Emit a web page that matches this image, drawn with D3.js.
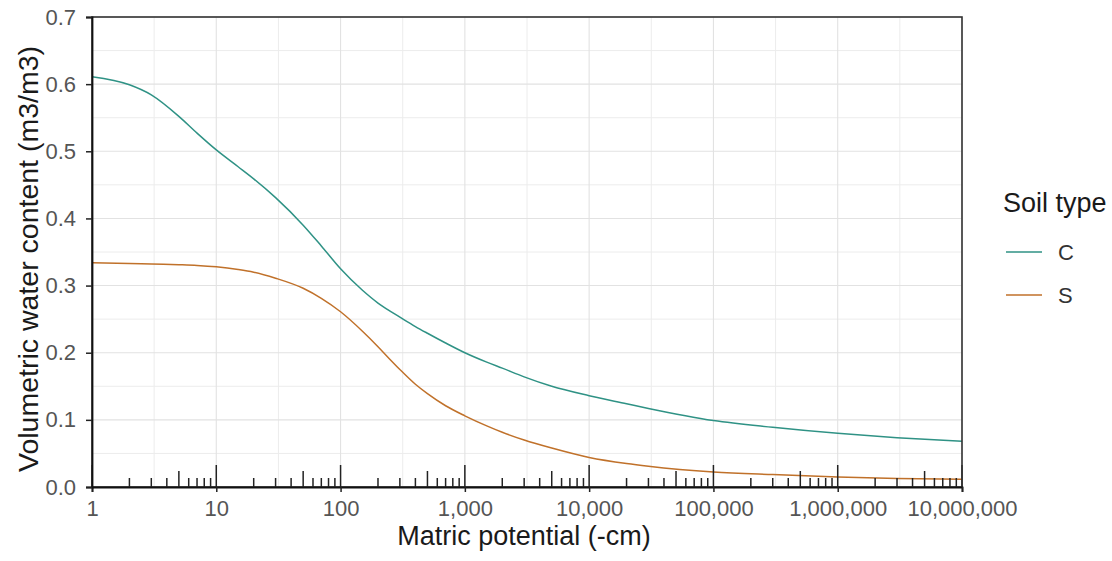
<!DOCTYPE html>
<html>
<head>
<meta charset="utf-8">
<script src="https://cdn.jsdelivr.net/npm/d3@7"></script>
<style>
  html, body { margin: 0; padding: 0; background: #fff; }
  svg { display: block; font-family: "Liberation Sans", Arial, sans-serif; }
</style>
</head>
<body>
<svg id="chart" width="1112" height="561"></svg>
<script>
// Matric potential (-cm) at which water content was evaluated
const potentials = [1, 2, 3, 5, 7, 10, 15, 20, 30, 50, 70, 100, 150, 200, 250, 300, 400, 500, 700,
                    1000, 1500, 2000, 3000, 5000, 1e4, 2e4, 3e4, 1e5, 3e5, 1e6, 3e6, 1e7];
// Volumetric water content, soil type C
const soilC = [0.611, 0.599, 0.584, 0.552, 0.527, 0.502, 0.477, 0.459, 0.431, 0.390, 0.359, 0.325,
               0.293, 0.274, 0.262, 0.253, 0.239, 0.229, 0.2145, 0.200, 0.186, 0.177, 0.164, 0.150,
               0.136, 0.124, 0.117, 0.099, 0.089, 0.080, 0.0735, 0.068];
// Volumetric water content, soil type S
const soilS = [0.334, 0.333, 0.332, 0.331, 0.330, 0.328, 0.324, 0.320, 0.311, 0.296, 0.281, 0.261,
               0.232, 0.209, 0.190, 0.175, 0.153, 0.139, 0.121, 0.106, 0.091, 0.0815, 0.070, 0.058,
               0.044, 0.035, 0.031, 0.0225, 0.0185, 0.015, 0.0125, 0.0115];
const soilTypes = ["C", "S"];
const xTicks = [1, 10, 100, 1000, 1e4, 1e5, 1e6, 1e7];
const yTicks = [0, 0.1, 0.2, 0.3, 0.4, 0.5, 0.6, 0.7];
const colors = { C: "#2f9285", S: "#c0712a" };

const svg = d3.select("#chart");
const pLeft = 92, pRight = 962, pTop = 17, pBottom = 487;

const x = d3.scaleLog().domain([1, 1e7]).range([pLeft, pRight]);
const y = d3.scaleLinear().domain([0, 0.7]).range([pBottom, pTop]);

// grid: minor lines halfway between majors (log space for x)
const xMinor = d3.range(0, 7).map(k => Math.pow(10, k + 0.5));
const yMinor = d3.range(0, 7).map(k => k * 0.1 + 0.05);
const grid = svg.append("g");
grid.selectAll(".xm").data(xMinor).join("line")
  .attr("x1", d => x(d)).attr("x2", d => x(d)).attr("y1", pTop).attr("y2", pBottom)
  .attr("stroke", "#ececec").attr("stroke-width", 1);
grid.selectAll(".ym").data(yMinor).join("line")
  .attr("x1", pLeft).attr("x2", pRight).attr("y1", d => y(d)).attr("y2", d => y(d))
  .attr("stroke", "#ececec").attr("stroke-width", 1);
grid.selectAll(".xM").data(xTicks).join("line")
  .attr("x1", d => x(d)).attr("x2", d => x(d)).attr("y1", pTop).attr("y2", pBottom)
  .attr("stroke", "#e2e2e2").attr("stroke-width", 1.1);
grid.selectAll(".yM").data(yTicks).join("line")
  .attr("x1", pLeft).attr("x2", pRight).attr("y1", d => y(d)).attr("y2", d => y(d))
  .attr("stroke", "#e2e2e2").attr("stroke-width", 1.1);

// curves
const line = d3.line().x(d => x(d[0])).y(d => y(d[1])).curve(d3.curveMonotoneX);
const series = { C: soilC, S: soilS };
soilTypes.forEach(t => {
  svg.append("path")
    .datum(potentials.map((p, i) => [p, series[t][i]]))
    .attr("fill", "none").attr("stroke", colors[t]).attr("stroke-width", 1.5)
    .attr("d", line);
});

// log tick marks along the bottom of the panel
const logTicks = [];
for (let k = 0; k < 7; k++) {
  for (let m = 1; m <= 9; m++) logTicks.push({ v: m * Math.pow(10, k), len: m === 1 ? 22 : (m === 5 ? 16 : 9) });
}
logTicks.push({ v: 1e7, len: 22 });
svg.append("g").selectAll("line").data(logTicks).join("line")
  .attr("x1", d => x(d.v)).attr("x2", d => x(d.v))
  .attr("y1", pBottom).attr("y2", d => pBottom - d.len)
  .attr("stroke", "#222").attr("stroke-width", 1.5);

// panel border
svg.append("rect").attr("x", pLeft).attr("y", pTop).attr("width", pRight - pLeft).attr("height", pBottom - pTop)
  .attr("fill", "none").attr("stroke", "#333").attr("stroke-width", 1.6);

// axes
const xAxis = svg.append("g").attr("transform", `translate(0,${pBottom})`)
  .call(d3.axisBottom(x).tickValues(xTicks).tickFormat(d3.format(",")).tickSize(5).tickPadding(8));
const yAxis = svg.append("g").attr("transform", `translate(${pLeft},0)`)
  .call(d3.axisLeft(y).tickValues(yTicks).tickFormat(d3.format(".1f")).tickSize(6).tickPadding(10));
[xAxis, yAxis].forEach(a => {
  a.select(".domain").attr("stroke", "#111").attr("stroke-width", 1.8);
  a.selectAll(".tick line").attr("stroke", "#222").attr("stroke-width", 1.5);
  a.selectAll(".tick text").attr("fill", "#555").style("font-size", "22px")
    .style("font-family", "'Liberation Sans', Arial, sans-serif");
});

// axis titles
svg.append("text").attr("x", 524).attr("y", 545)
  .attr("text-anchor", "middle").attr("fill", "#1a1a1a").style("font-size", "27px")
  .text("Matric potential (-cm)");
svg.append("text").attr("transform", `translate(38,259) rotate(-90)`)
  .attr("text-anchor", "middle").attr("fill", "#1a1a1a").style("font-size", "28.5px")
  .text("Volumetric water content (m3/m3)");

// legend
const legend = svg.append("g");
legend.append("text").attr("x", 1003).attr("y", 212).attr("fill", "#1a1a1a")
  .style("font-size", "27px").text("Soil type");
soilTypes.forEach((t, i) => {
  const ly = 252 + i * 43;
  legend.append("line").attr("x1", 1006).attr("x2", 1042).attr("y1", ly).attr("y2", ly)
    .attr("stroke", colors[t]).attr("stroke-width", 1.5);
  legend.append("text").attr("x", 1058).attr("y", ly).attr("dy", "0.35em").attr("fill", "#333")
    .style("font-size", "22px").text(t);
});
</script>
</body>
</html>
